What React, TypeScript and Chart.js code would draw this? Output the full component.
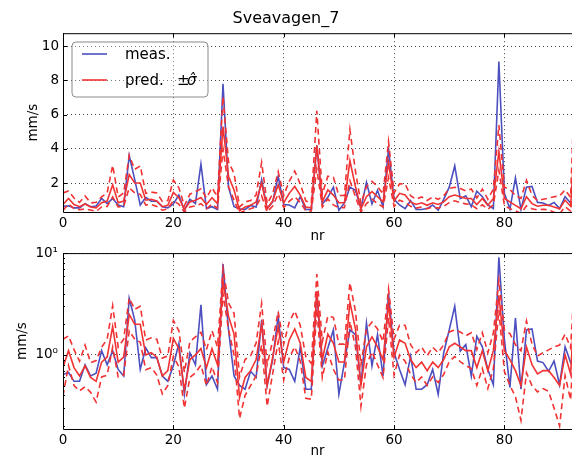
import React, { useEffect, useRef } from 'react';
import { Chart, registerables } from 'chart.js';
Chart.register(...registerables);

const TITLE = 'Sveavagen_7';
const X_LABEL = 'nr';
const Y_LABEL = 'mm/s';

const meas = [
  0.64, 0.67, 0.55, 0.55, 0.8, 0.62, 0.66, 1.1, 0.8, 1.1,
  0.72, 0.62, 3.6, 2.2, 0.72, 1.17, 0.94, 0.94, 0.62, 0.55,
  0.78, 1.3, 0.41, 1.05, 0.8, 3.1, 0.51, 0.62, 0.46, 7.8,
  1.76, 0.62, 0.5, 0.46, 0.69, 0.6, 2.2, 0.5, 0.9, 2.4,
  0.75, 0.72, 0.55, 1.2, 0.46, 0.46, 4.2, 0.78, 1.17, 1.76,
  0.41, 0.84, 1.76, 1.58, 0.51, 2.05, 0.78, 1.58, 0.62, 4.0,
  1.05, 0.72, 0.51, 0.97, 0.46, 0.46, 0.51, 0.72, 0.41, 1.05,
  1.76, 3.0, 1.09, 1.26, 0.62, 1.52, 1.2, 0.72, 0.51, 9.1,
  1.41, 0.48, 2.3, 0.46, 1.76, 1.8, 0.87, 0.84, 0.69, 0.87,
  0.51, 1.2, 0.84, 1.0,
];

const pred = [
  0.75, 1.1, 0.75, 0.62, 0.78, 0.6, 0.55, 0.85, 0.95, 1.9,
  0.85, 0.95, 2.5, 2.0, 2.0, 1.0, 1.05, 0.95, 0.62, 0.7,
  1.45, 1.15, 0.45, 0.9, 1.0, 1.15, 0.75, 1.15, 0.8, 5.3,
  2.4, 1.6, 0.38, 0.6, 0.7, 0.9, 2.0, 0.5, 0.95, 1.9,
  0.85, 1.4, 1.8, 1.3, 0.6, 0.55, 4.2, 0.9, 1.6, 1.3,
  0.85, 0.85, 3.3, 1.8, 0.5, 1.2, 1.5, 1.2, 0.9, 3.2,
  0.95, 1.4, 1.3, 0.9, 0.75, 0.85, 0.7, 0.85, 0.75, 0.9,
  1.2, 1.3, 1.2, 1.1, 1.1, 0.75, 1.1, 0.7, 1.1, 3.85,
  1.1, 0.9, 0.7, 0.5, 1.2, 0.8, 0.65, 0.7, 0.7, 0.6,
  0.5, 1.0, 0.65, 6.0,
];

// multiplicative sigma factor: dashed band = pred * f and pred / f
const sigmaFactor = [
  1.9, 1.4, 1.5, 1.4, 1.6, 1.4, 1.6, 1.4, 1.5, 1.6,
  1.4, 1.5, 1.45, 1.4, 1.5, 1.4, 1.4, 1.5, 1.5, 1.4,
  1.5, 1.5, 1.5, 1.5, 1.5, 1.45, 1.5, 1.5, 1.5, 1.33,
  1.35, 1.6, 1.6, 1.5, 1.4, 1.45, 1.6, 1.6, 1.45, 1.4,
  1.5, 1.5, 1.5, 1.5, 1.6, 1.5, 1.48, 1.5, 1.5, 1.8,
  1.5, 1.5, 1.55, 1.5, 1.6, 1.5, 1.4, 1.5, 1.5, 1.38,
  1.5, 1.4, 1.5, 1.4, 1.4, 1.4, 1.4, 1.4, 1.4, 1.4,
  1.4, 1.35, 1.4, 1.4, 1.5, 1.5, 1.5, 1.5, 1.5, 1.4,
  1.6, 1.8, 1.8, 2.2, 1.8, 1.6, 1.5, 1.5, 1.6, 2.0,
  2.5, 1.6, 1.8, 1.7,
];

const xTicks = [0, 20, 40, 60, 80];
const linTicks = [2, 4, 6, 8, 10];
const logTicks = [1, 10];
const logTickLabels = ['10⁰', '10¹'];
const logMinor = [0.2, 0.3, 0.4, 0.5, 0.6, 0.7, 0.8, 0.9, 2, 3, 4, 5, 6, 7, 8, 9];

const FONT = 'DejaVu Sans';
const BLUE = '#4b4fbf';
const RED = '#f23232';
const LW = 1.6;

const upper = pred.map((p, i) => p * sigmaFactor[i]);
const lower = pred.map((p, i) => p / sigmaFactor[i]);
const toPts = (arr: number[]) => arr.map((v, i) => ({ x: i, y: v }));

function makeDatasets() {
  return [
    { label: 'upper', data: toPts(upper), borderColor: RED, borderWidth: LW, borderDash: [6, 4], pointRadius: 0, fill: false },
    { label: 'lower', data: toPts(lower), borderColor: RED, borderWidth: LW, borderDash: [6, 4], pointRadius: 0, fill: false },
    { label: 'pred.', data: toPts(pred), borderColor: RED, borderWidth: LW, pointRadius: 0, fill: false },
    { label: 'meas.', data: toPts(meas), borderColor: BLUE, borderWidth: LW, pointRadius: 0, fill: false },
  ];
}

const framePlugin = {
  id: 'frame',
  afterDraw(chart: any, _a: any, opts: any) {
    const { ctx, chartArea } = chart;
    const { left, top, bottom, right } = chartArea;
    const xs = chart.scales.x;
    const ys = chart.scales.y;
    ctx.save();
    ctx.strokeStyle = '#000';
    ctx.lineWidth = 1;
    ctx.setLineDash([]);
    ctx.beginPath();
    ctx.moveTo(right + 5, top + 0.5);
    ctx.lineTo(left + 0.5, top + 0.5);
    ctx.lineTo(left + 0.5, bottom + 0.5);
    ctx.lineTo(right + 5, bottom + 0.5);
    ctx.stroke();
    ctx.beginPath();
    for (const v of xTicks) {
      const px = Math.round(xs.getPixelForValue(v)) + 0.5;
      ctx.moveTo(px, bottom);
      ctx.lineTo(px, bottom - 4);
      ctx.moveTo(px, top);
      ctx.lineTo(px, top + 4);
    }
    for (const v of opts.major || []) {
      const py = Math.round(ys.getPixelForValue(v)) + 0.5;
      ctx.moveTo(left, py);
      ctx.lineTo(left + 4, py);
    }
    for (const v of opts.minor || []) {
      const py = Math.round(ys.getPixelForValue(v)) + 0.5;
      ctx.moveTo(left, py);
      ctx.lineTo(left + 2, py);
    }
    ctx.stroke();

    if (opts.legend) {
      const bx = 72, by = 42, bw = 136, bh = 55, r = 4;
      ctx.beginPath();
      ctx.moveTo(bx + r, by);
      ctx.arcTo(bx + bw, by, bx + bw, by + bh, r);
      ctx.arcTo(bx + bw, by + bh, bx, by + bh, r);
      ctx.arcTo(bx, by + bh, bx, by, r);
      ctx.arcTo(bx, by, bx + bw, by, r);
      ctx.closePath();
      ctx.fillStyle = 'rgba(255,255,255,0.3)';
      ctx.fill();
      ctx.strokeStyle = '#8a8a8a';
      ctx.lineWidth = 1;
      ctx.stroke();
      ctx.lineWidth = LW;
      ctx.strokeStyle = BLUE;
      ctx.beginPath();
      ctx.moveTo(82, 54);
      ctx.lineTo(107, 54);
      ctx.stroke();
      ctx.strokeStyle = RED;
      ctx.beginPath();
      ctx.moveTo(82, 80);
      ctx.lineTo(107, 80);
      ctx.stroke();
      ctx.fillStyle = '#000';
      ctx.textBaseline = 'middle';
      ctx.textAlign = 'left';
      ctx.font = `15px "${FONT}"`;
      ctx.fillText('meas.', 125, 55);
      ctx.fillText('pred.', 125, 81);
      ctx.fillText('±', 177, 81);
      ctx.font = `italic 15px "${FONT}"`;
      ctx.fillText('σ\u0302', 187, 81);
    }
    ctx.restore();
  },
};

const tickFont = { family: FONT, size: 13.5 };

export default function App() {
  const c1 = useRef<HTMLCanvasElement>(null);
  const c2 = useRef<HTMLCanvasElement>(null);

  useEffect(() => {
    const common = (extraY: any, titleCfg: any, layoutPad: any, xHeight: number, xTitlePad: number, yTitlePad: number, frameOpts: any) => ({
      type: 'line' as const,
      data: { datasets: makeDatasets() },
      plugins: [framePlugin],
      options: {
        animation: false,
        responsive: false,
        devicePixelRatio: 1,
        layout: { padding: layoutPad },
        plugins: {
          legend: { display: false },
          tooltip: { enabled: false },
          title: titleCfg,
          frame: frameOpts,
        },
        scales: {
          x: {
            type: 'linear',
            min: 0,
            max: 92.25,
            afterBuildTicks: (s: any) => { s.ticks = xTicks.map((v) => ({ value: v })); },
            afterFit: (s: any) => { s.height = xHeight; },
            grid: { color: 'rgba(0,0,0,0.75)', lineWidth: 1, drawTicks: false },
            border: { display: false, dash: [1, 3] },
            ticks: { padding: 3, font: tickFont, color: '#000', maxRotation: 0, autoSkip: false },
            title: { display: true, text: X_LABEL, font: tickFont, color: '#000', padding: { top: 0, bottom: xTitlePad } },
          },
          y: {
            ...extraY,
            afterFit: (s: any) => { s.width = 63; },
            grid: { color: 'rgba(0,0,0,0.75)', lineWidth: 1, drawTicks: false },
            border: { display: false, dash: [1, 3] },
            title: { display: true, text: Y_LABEL, font: tickFont, color: '#000', padding: { top: yTitlePad, bottom: 0 } },
          },
        },
      },
    });

    const cfg1: any = common(
      {
        type: 'linear',
        min: 0.31,
        max: 10.75,
        afterBuildTicks: (s: any) => { s.ticks = linTicks.map((v) => ({ value: v })); },
        ticks: { padding: 4, font: tickFont, color: '#000' },
      },
      { display: true, text: TITLE, font: { family: FONT, size: 16, weight: 'normal' }, color: '#000', padding: { top: 9, bottom: 5 } },
      { left: 0, right: 0, top: 0, bottom: 0 },
      34, 1, 25,
      { major: linTicks, minor: [], legend: true }
    );

    const cfg2: any = common(
      {
        type: 'logarithmic',
        min: 0.187,
        max: 10,
        afterBuildTicks: (s: any) => { s.ticks = logTicks.map((v) => ({ value: v })); },
        ticks: {
          padding: 5,
          font: tickFont,
          color: '#000',
          callback: (v: number) => { const k = logTicks.indexOf(v); return k >= 0 ? logTickLabels[k] : ''; },
        },
      },
      { display: false },
      { left: 0, right: 0, top: 13, bottom: 0 },
      41, 10, 14,
      { major: logTicks, minor: logMinor, legend: false }
    );

    const ch1 = new Chart(c1.current!, cfg1);
    const ch2 = new Chart(c2.current!, cfg2);
    return () => { ch1.destroy(); ch2.destroy(); };
  }, []);

  return (
    <div style={{ position: 'fixed', left: 0, top: 0, width: 572, height: 458, overflow: 'hidden', background: '#fff' }}>
      <canvas ref={c1} width={572} height={246} style={{ position: 'absolute', left: 0, top: 0 }} />
      <canvas ref={c2} width={572} height={230} style={{ position: 'absolute', left: 0, top: 240 }} />
    </div>
  );
}
